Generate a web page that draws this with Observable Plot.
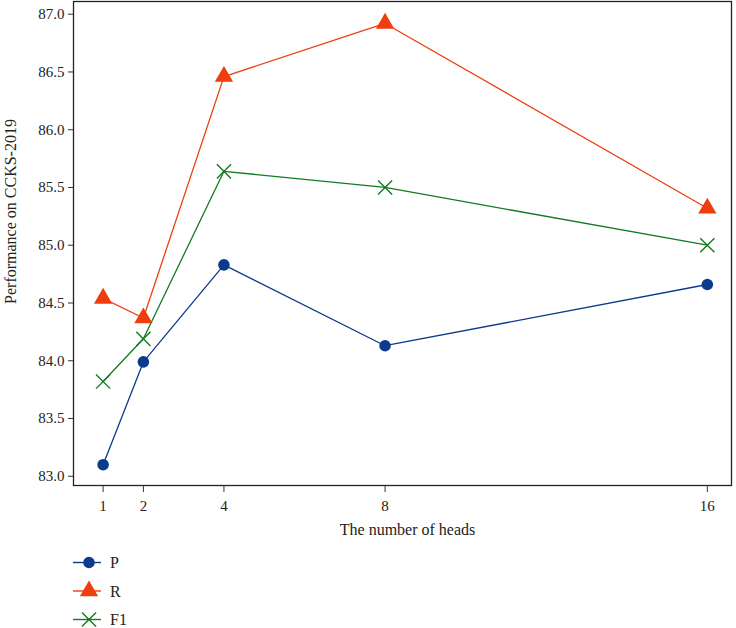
<!DOCTYPE html>
<html>
<head>
<meta charset="utf-8">
<script src="https://cdn.jsdelivr.net/npm/d3@7"></script>
<script src="https://cdn.jsdelivr.net/npm/@observablehq/plot@0.6"></script>
<style>
  html, body { margin: 0; padding: 0; background: #fff; }
  #chart { width: 736px; }
  svg { display: block; }
</style>
</head>
<body>
<div id="chart"></div>
<script>
const heads = [1, 2, 4, 8, 16];
const seriesNames = ["P", "R", "F1"];
const pValues = [83.10, 83.99, 84.83, 84.13, 84.66];
const rValues = [84.54, 84.37, 86.46, 86.92, 85.32];
const f1Values = [83.82, 84.19, 85.64, 85.50, 85.00];
const yTicks = [83.0, 83.5, 84.0, 84.5, 85.0, 85.5, 86.0, 86.5, 87.0];
const xTicks = [1, 2, 4, 8, 16];

const colors = {P: "#0b3b8c", R: "#ef3e0e", F1: "#137a22"};
const symbols = {P: "circle", R: "triangle", F1: "times"};

const valuesBySeries = {P: pValues, R: rValues, F1: f1Values};
const data = seriesNames.flatMap(s => heads.map((h, i) => ({series: s, heads: h, value: valuesBySeries[s][i]})));

const font = "'Liberation Serif', 'DejaVu Serif', serif";
const H = 548;

const chart = Plot.plot({
  width: 736,
  height: H,
  marginLeft: 73,
  marginRight: 5,
  marginTop: 1,
  marginBottom: H - 485,
  style: {fontFamily: font, fontSize: "15px", color: "#222", background: "#fff"},
  x: {domain: [0.265, 16.6]},
  y: {domain: [82.92, 87.11]},
  marks: [
    Plot.frame({stroke: "#222", strokeWidth: 1.3}),
    Plot.axisX({ticks: xTicks, tickFormat: d => String(d), tickSize: 7, tickPadding: 8, stroke: "#333", fontSize: 15, label: null}),
    Plot.axisY({ticks: yTicks, tickFormat: d => d.toFixed(1), tickSize: 5, tickPadding: 4, stroke: "#333", fontSize: 15, label: null}),
    Plot.text(["The number of heads"], {frameAnchor: "bottom", dx: 5, dy: 49, fontSize: 16, fill: "#222"}),
    Plot.text(["Performance on CCKS-2019"], {frameAnchor: "left", textAnchor: "middle", dx: -63, dy: -32, rotate: -90, fontSize: 16, fill: "#222"}),
    ...seriesNames.map(s => Plot.line(data.filter(d => d.series === s), {x: "heads", y: "value", stroke: colors[s], strokeWidth: 1.3})),
    Plot.dot(data.filter(d => d.series === "P"), {x: "heads", y: "value", symbol: "circle", r: 5.8, fill: colors.P, stroke: "none"}),
    Plot.dot(data.filter(d => d.series === "R"), {x: "heads", y: "value", symbol: "triangle", r: 6.8, fill: colors.R, stroke: "none"}),
    Plot.dot(data.filter(d => d.series === "F1"), {x: "heads", y: "value", symbol: "times", r: 6.5, stroke: colors.F1, strokeWidth: 1.4})
  ]
});
document.getElementById("chart").appendChild(chart);

// Legend below the chart, drawn with d3 symbols
const legH = 628 - H;
const leg = d3.select("#chart").append("svg")
  .attr("width", 736).attr("height", legH)
  .style("font-family", font);
const symMap = {circle: d3.symbolCircle, triangle: d3.symbolTriangle, times: d3.symbolTimes};
const sizes = {P: 5.8, R: 6.8, F1: 6.5};
seriesNames.forEach((s, i) => {
  const cy = 562.5 + i * 28.5 - H;
  const g = leg.append("g").attr("transform", `translate(0,${cy})`);
  g.append("line").attr("x1", 73).attr("x2", 101).attr("y1", 0).attr("y2", 0)
    .attr("stroke", colors[s]).attr("stroke-width", 1.4);
  const r = sizes[s];
  const path = d3.symbol(symMap[symbols[s]], Math.PI * r * r)();
  const p = g.append("path").attr("d", path).attr("transform", "translate(89,0)");
  if (s === "F1") p.attr("fill", "none").attr("stroke", colors[s]).attr("stroke-width", 1.4);
  else p.attr("fill", colors[s]);
  g.append("text").attr("x", 110).attr("y", 0).attr("dy", "0.35em")
    .attr("font-size", 16).attr("fill", "#222").text(s);
});
</script>
</body>
</html>
